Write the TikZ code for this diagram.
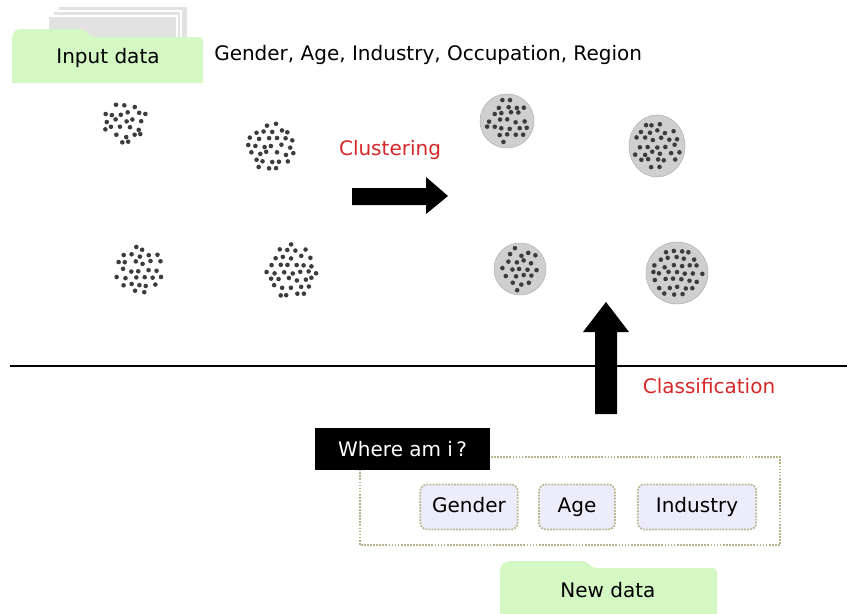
\documentclass[tikz,border=0pt]{standalone}
\usepackage{fontspec}
\setmainfont{DejaVu Sans}
\usepackage{tikz}
\usetikzlibrary{arrows.meta,positioning,calc}
\usepackage{xcolor}
\definecolor{folder}{HTML}{D4F8C4}
\definecolor{pages}{HTML}{E2E2E2}
\definecolor{clred}{HTML}{D62828}
\definecolor{olive}{HTML}{B8B48C}
\definecolor{lav}{HTML}{ECECFB}
\definecolor{blob}{HTML}{CFCFCF}
\definecolor{dot}{HTML}{3C3C3C}

% scatter a jittered grid of dots inside a circle
\newcommand{\dotcloud}[3]{% x, y, radius
  \foreach \i in {-5,...,5}{
    \foreach \j in {-5,...,5}{
      \pgfmathsetmacro{\px}{8.4*\i+4.2*mod(abs(\j),2)+3.4*(rnd-0.5)}
      \pgfmathsetmacro{\py}{7.3*\j+3.4*(rnd-0.5)}
      \pgfmathparse{(\px*\px+\py*\py<#3*#3) ? 1 : 0}
      \ifnum\pgfmathresult=1
        \fill[dot] (#1+\px,#2+\py) circle (2.3);
      \fi
    }
  }%
}

\begin{document}
\begin{tikzpicture}[
      x=0.75pt, y=-0.75pt,
      label/.style={font=\fontsize{15}{17}\selectfont, inner sep=0pt},
      redlabel/.style={label, text=clred},
      attr/.style={draw=olive, densely dotted, line width=1.3pt, fill=lav, rounded corners=5pt, minimum height=33.75pt, text height=11pt, text depth=3pt, font=\fontsize{15}{17}\selectfont, inner sep=4pt},
      blobcirc/.style={fill=blob, draw=blob!85!black, line width=0.4pt}
    ]
    \useasboundingbox (0,0) rectangle (847,614);
    \pgfmathsetseed{4711}

    % input data folder
    \filldraw[fill=pages, draw=white, line width=1pt] (58,6) rectangle (188,40);
    \filldraw[fill=pages, draw=white, line width=1pt] (53,11) rectangle (181,40);
    \filldraw[fill=pages, draw=white, line width=1pt] (48,16) rectangle (177,40);
    \fill[folder] (12,83) -- (12,40) .. controls (12,32) and (15,29) .. (22,29)
      -- (80,29) .. controls (87,29) and (88,37) .. (95,37) -- (198,37)
      .. controls (202,37) and (203,39) .. (203,42) -- (203,83) -- cycle;
    \node[label] (input) at (108,58) {Input data};
    \node[label, anchor=west] (attrs) at (214,55) {Gender, Age, Industry, Occupation, Region};

    % raw data
    \dotcloud{125}{121}{22}
    \dotcloud{272}{146}{25}
    \dotcloud{139}{270}{24}
    \dotcloud{292}{272}{28}

    % clusters
    \fill[blobcirc] (507,121) circle (27);
    \dotcloud{507}{121}{22}
    \fill[blobcirc] (657,146) ellipse (28 and 31);
    \dotcloud{657}{146}{24}
    \fill[blobcirc] (520,269) circle (26);
    \dotcloud{520}{269}{22}
    \fill[blobcirc] (677,273) circle (31);
    \dotcloud{677}{273}{26}

    \node[redlabel] (clust) at (390,150) {Clustering};
    \fill[black] (352,188) -- (426,188) -- (426,177) -- (448,196) -- (426,214)
      -- (426,205) -- (352,205) -- cycle;

    % divider
    \coordinate (lineL) at (10,366);
    \coordinate (lineR) at (847,366);
    \draw[line width=0.8pt] (lineL) -- (lineR);

    \fill[black] (595,414) -- (595,332) -- (583,332) -- (606,302) -- (629,332)
      -- (617,332) -- (617,414) -- cycle;
    \node[redlabel] (classif) at (709,386) {Classification};

    % new data query
    \draw[olive, densely dotted, line width=1.3pt] (360,457) rectangle (780,545);
    \node[fill=black, text=white, font=\fontsize{15}{17}\selectfont, minimum width=131pt, minimum height=31pt, anchor=north west] (where) at (315,428) {Where am i\,?};
    \node[attr, minimum width=73pt] (gender) at (469,507) {Gender};
    \node[attr, minimum width=57pt] (age) at (577,507) {Age};
    \node[attr, minimum width=89pt] (industry) at (697,507) {Industry};

    \fill[folder] (500,614) -- (500,572) .. controls (500,565) and (504,561) .. (511,561)
      -- (582,561) .. controls (589,561) and (590,568) .. (597,568) -- (712,568)
      .. controls (716,568) and (717,570) .. (717,573) -- (717,614) -- cycle;
    \node[label] (newdata) at (608,590) {New data};
  \end{tikzpicture}
\end{document}
